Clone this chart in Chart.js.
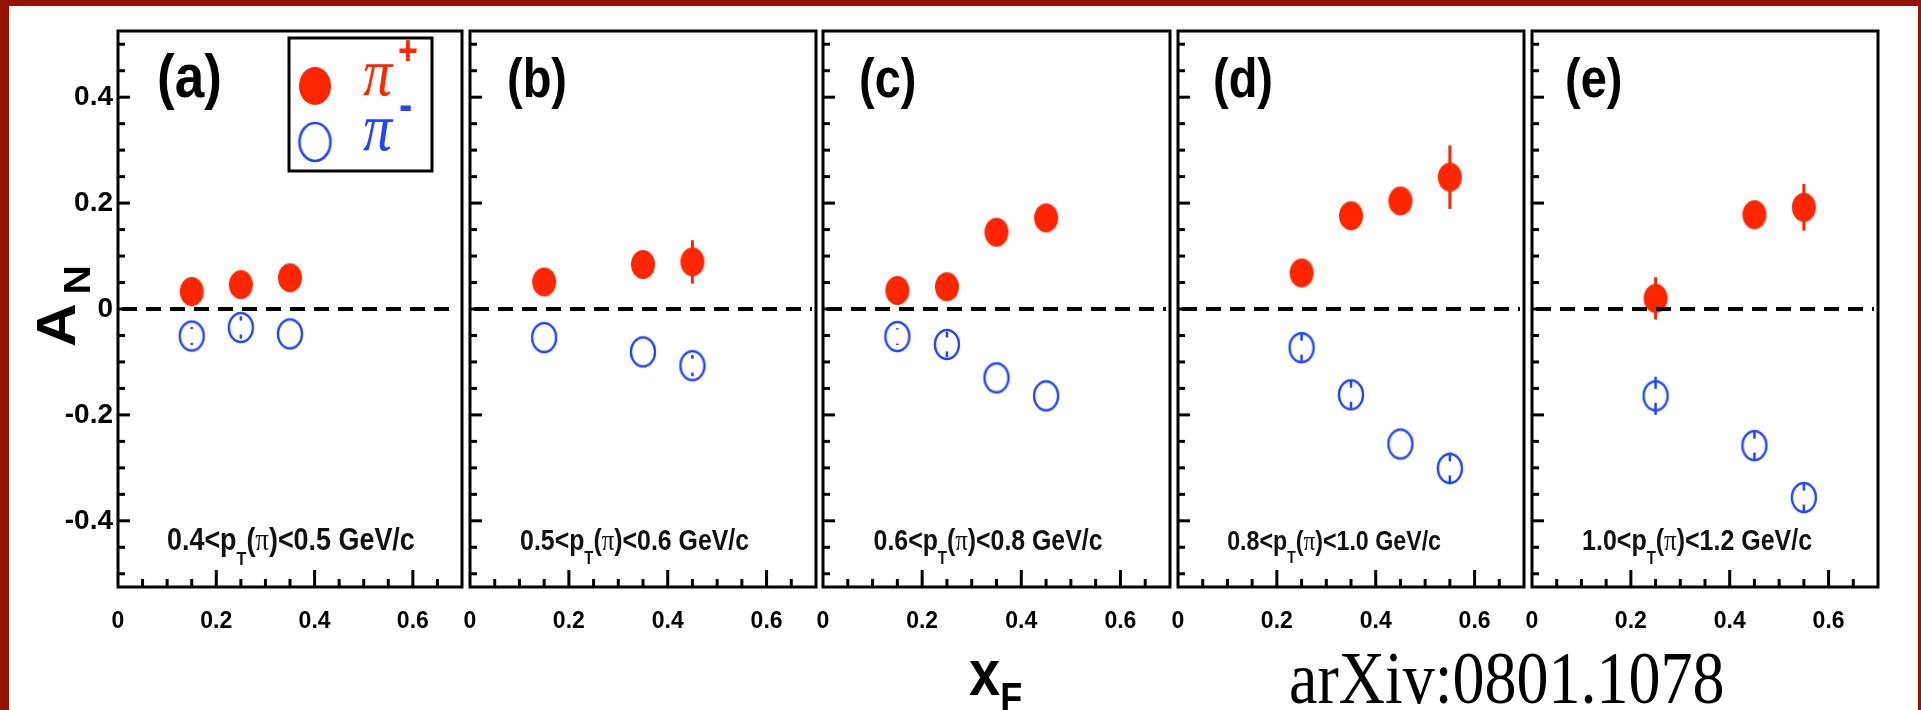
<!DOCTYPE html>
<html>
<head>
<meta charset="utf-8">
<script src="https://cdn.jsdelivr.net/npm/chart.js@4.4.1/dist/chart.umd.min.js"></script>
<style>
  html, body { margin: 0; padding: 0; }
  body { width: 1921px; height: 710px; background: #921400; position: relative; overflow: hidden; }
  #sheet { position: absolute; left: 9px; top: 6px; width: 1909px; height: 704px; background: #fff; }
  canvas { position: absolute; top: 0; }
  .lbl { position: absolute; white-space: nowrap; line-height: 1; color: #000; }
</style>
</head>
<body>
<div id="sheet"></div>
<canvas id="p0"></canvas>
<canvas id="p1"></canvas>
<canvas id="p2"></canvas>
<canvas id="p3"></canvas>
<canvas id="p4"></canvas>
<div class="lbl" style="left:24px; top:347px; font:bold 55px 'Liberation Sans'; transform-origin:0 0; transform:rotate(-90deg) scaleX(1.1);">A<span style="font-size:37px; position:relative; top:15px; margin-left:8px;">N</span></div>
<div class="lbl" style="left:969px; top:642px; font:bold 56px 'Liberation Sans'; transform-origin:0 47px; transform:scaleY(1.17);">x<span style="font-size:36px; position:relative; top:15px;">F</span></div>
<div class="lbl" style="left:1289px; top:644px; font:64px 'Liberation Serif'; transform-origin:0 54px; transform:scaleY(1.17);">arXiv:0801.1078</div>
<script>
// A_N vs x_F for pi+ / pi-, five pT bins
const panelNames = ['(a)', '(b)', '(c)', '(d)', '(e)'];
const ptLow = ['0.4', '0.5', '0.6', '0.8', '1.0'];
const ptHigh = ['0.5', '0.6', '0.8', '1.0', '1.2'];
const seriesNames = ['π+', 'π-'];

const xF = [
  [0.15, 0.25, 0.35],
  [0.15, 0.35, 0.45],
  [0.15, 0.25, 0.35, 0.45],
  [0.25, 0.35, 0.45, 0.55],
  [0.25, 0.45, 0.55]
];
const anPiPlus = [
  [0.033, 0.046, 0.059],
  [0.051, 0.084, 0.089],
  [0.035, 0.042, 0.145, 0.172],
  [0.068, 0.176, 0.204, 0.249],
  [0.020, 0.178, 0.192]
];
const errPiPlus = [
  [0.012, 0.012, 0.012],
  [0.013, 0.016, 0.041],
  [0.014, 0.016, 0.020, 0.022],
  [0.018, 0.020, 0.024, 0.060],
  [0.040, 0.025, 0.044]
];
const anPiMinus = [
  [-0.051, -0.035, -0.047],
  [-0.054, -0.081, -0.107],
  [-0.052, -0.067, -0.130, -0.164],
  [-0.073, -0.162, -0.255, -0.301],
  [-0.164, -0.258, -0.356]
];
const errPiMinus = [
  [0.017, 0.021, 0.010],
  [0.010, 0.012, 0.020],
  [0.016, 0.024, 0.012, 0.012],
  [0.026, 0.026, 0.012, 0.030],
  [0.036, 0.026, 0.028]
];

const xTickValues = [0, 0.2, 0.4, 0.6];
const xTickLabels = ['0', '0.2', '0.4', '0.6'];
const yTickValues = [-0.4, -0.2, 0, 0.2, 0.4];
const yTickLabels = ['-0.4', '-0.2', '0', '0.2', '0.4'];

// layout (page pixels)
const frames = [[118, 462], [470, 816], [823, 1170], [1178, 1524], [1532, 1878]];
const FRAME_TOP = 31, FRAME_BOTTOM = 587, CANVAS_H = 640;
const labelLeft = [39, 37, 36, 35, 33];
const labelSize = [53, 47, 47, 47, 47];
const ptCenter = [0.352, 0.333, 0.333, 0.316, 0.334];
const ptWidth = [248, 229, 229, 214, 230];
const STRETCH = 1.17;
const RED = '#ff2600';
const BLUE = '#2343ff';

function ellipseMarker(w, h, fill, stroke, lw) {
  const c = document.createElement('canvas');
  c.width = w + 6; c.height = h + 6;
  const g = c.getContext('2d');
  g.beginPath();
  g.ellipse(c.width / 2, c.height / 2, w / 2, h / 2, 0, 0, 2 * Math.PI);
  if (fill) { g.fillStyle = fill; g.fill(); }
  if (stroke) { g.lineWidth = lw; g.strokeStyle = stroke; g.stroke(); }
  return c;
}
const redDot = ellipseMarker(24, 29, RED);
const blueRing = ellipseMarker(24, 29, null, BLUE, 2.4);
const redDotBig = ellipseMarker(32, 38, RED);
const blueRingBig = ellipseMarker(31, 38, null, BLUE, 2.6);

function stretchedText(ctx, txt, x, y, font, color, align) {
  ctx.save();
  ctx.translate(x, y);
  ctx.scale(1, STRETCH);
  ctx.font = font;
  ctx.fillStyle = color;
  ctx.textAlign = align || 'left';
  ctx.textBaseline = 'alphabetic';
  ctx.fillText(txt, 0, 0);
  ctx.restore();
}

function vline(ctx, x, y1, y2) {
  ctx.beginPath(); ctx.moveTo(x, y1); ctx.lineTo(x, y2); ctx.stroke();
}

function drawPtText(ctx, i, cx, baseline) {
  const parts = [
    {t: ptLow[i] + '<p', fam: 'bold', s: 1, dy: 0},
    {t: 'T', fam: 'bold', s: 0.6, dy: 0.55},
    {t: '(', fam: 'bold', s: 1, dy: 0},
    {t: 'π', fam: 'serif', s: 1, dy: 0},
    {t: ')<' + ptHigh[i] + ' GeV/c', fam: 'bold', s: 1, dy: 0}
  ];
  const fontOf = (p, size) => p.fam === 'serif'
    ? (size * p.s) + 'px "Liberation Serif"'
    : 'bold ' + (size * p.s) + 'px "Liberation Sans"';
  let w100 = 0;
  parts.forEach(p => { ctx.font = fontOf(p, 100); w100 += ctx.measureText(p.t).width; });
  const size = 100 * ptWidth[i] / w100;
  let x = cx - ptWidth[i] / 2;
  parts.forEach(p => {
    const f = fontOf(p, size);
    stretchedText(ctx, p.t, x, baseline + p.dy * size, f, '#111');
    ctx.font = f;
    x += ctx.measureText(p.t).width;
  });
}

const panelPlugin = {
  id: 'panel',
  beforeDatasetsDraw(chart, args, opts) {
    const i = opts.index;
    const {ctx, scales: {x, y}} = chart;
    ctx.save();
    ctx.strokeStyle = RED;
    ctx.lineWidth = 3;
    xF[i].forEach((v, k) => {
      const px = x.getPixelForValue(v);
      vline(ctx, px, y.getPixelForValue(anPiPlus[i][k] + errPiPlus[i][k]), y.getPixelForValue(anPiPlus[i][k] - errPiPlus[i][k]));
    });
    ctx.restore();
  },
  afterDatasetsDraw(chart, args, opts) {
    const i = opts.index;
    const {ctx, chartArea: a, scales: {x, y}} = chart;
    ctx.save();

    // pi- error bars (gap around the open marker centre)
    ctx.strokeStyle = BLUE;
    ctx.lineWidth = 2.5;
    const gap = 7;
    xF[i].forEach((v, k) => {
      const px = x.getPixelForValue(v);
      const py = y.getPixelForValue(anPiMinus[i][k]);
      const e = py - y.getPixelForValue(anPiMinus[i][k] + errPiMinus[i][k]);
      if (e > gap) {
        vline(ctx, px, py - e, py - gap);
        vline(ctx, px, py + gap, py + e);
      }
    });

    // zero line
    const y0 = y.getPixelForValue(0);
    ctx.strokeStyle = '#000';
    ctx.lineWidth = 4;
    ctx.setLineDash([15, 9]);
    ctx.beginPath(); ctx.moveTo(a.left + 4, y0); ctx.lineTo(a.right - 4, y0); ctx.stroke();
    ctx.setLineDash([]);

    // frame + inward ticks
    ctx.lineWidth = 3;
    ctx.strokeRect(a.left, a.top, a.right - a.left, a.bottom - a.top);
    for (let k = -10; k <= 10; k++) {
      const py = y.getPixelForValue(k * 0.05);
      const len = k % 4 === 0 ? 12 : 7;
      ctx.beginPath(); ctx.moveTo(a.left, py); ctx.lineTo(a.left + len, py); ctx.stroke();
    }
    for (let k = 1; k <= 13; k++) {
      const px = x.getPixelForValue(k * 0.05);
      const len = k % 4 === 0 ? 17 : 8;
      ctx.beginPath(); ctx.moveTo(px, a.bottom); ctx.lineTo(px, a.bottom - len); ctx.stroke();
    }

    // panel tag and pT range
    stretchedText(ctx, panelNames[i], a.left + labelLeft[i], a.top + 66, 'bold ' + labelSize[i] + 'px "Liberation Sans"', '#000');
    drawPtText(ctx, i, x.getPixelForValue(ptCenter[i]), a.top + 519);

    // legend in the first panel
    if (i === 0) {
      ctx.lineWidth = 3;
      ctx.strokeStyle = '#000';
      ctx.strokeRect(a.left + 171, a.top + 7, 143, 133);
      ctx.drawImage(redDotBig, a.left + 197 - redDotBig.width / 2, a.top + 55 - redDotBig.height / 2);
      ctx.drawImage(blueRingBig, a.left + 197 - blueRingBig.width / 2, a.top + 111 - blueRingBig.height / 2);
      stretchedText(ctx, seriesNames[0].charAt(0), a.left + 245, a.top + 64, 'italic 58px "Liberation Serif"', RED);
      stretchedText(ctx, seriesNames[0].slice(1), a.left + 280, a.top + 33, 'bold 34px "Liberation Sans"', RED);
      stretchedText(ctx, seriesNames[1].charAt(0), a.left + 245, a.top + 119, 'italic 58px "Liberation Serif"', BLUE);
      stretchedText(ctx, seriesNames[1].slice(1), a.left + 281, a.top + 89, 'bold 40px "Liberation Sans"', BLUE);
    }
    ctx.restore();
  }
};

function makePanel(i) {
  const [fl, fr] = frames[i];
  const padL = i === 0 ? 106 : 22;
  const padR = 4;
  const cv = document.getElementById('p' + i);
  cv.width = padL + (fr - fl) + padR;
  cv.height = CANVAS_H;
  cv.style.left = (fl - padL) + 'px';

  new Chart(cv, {
    type: 'scatter',
    data: {
      datasets: [{
        label: seriesNames[0],
        data: xF[i].map((v, k) => ({x: v, y: anPiPlus[i][k]})),
        pointStyle: redDot,
        pointRadius: 1,
        pointBorderWidth: 0
      }, {
        label: seriesNames[1],
        data: xF[i].map((v, k) => ({x: v, y: anPiMinus[i][k]})),
        pointStyle: blueRing,
        pointRadius: 1,
        pointBorderWidth: 0
      }]
    },
    options: {
      responsive: false,
      animation: false,
      events: [],
      layout: {padding: {top: FRAME_TOP, right: padR, left: 0, bottom: 0}},
      plugins: {
        legend: {display: false},
        tooltip: {enabled: false},
        panel: {index: i}
      },
      scales: {
        x: {
          type: 'linear', min: 0, max: 0.7,
          grid: {display: false, drawTicks: false},
          border: {display: false},
          afterBuildTicks: s => { s.ticks = xTickValues.map(v => ({value: v})); },
          afterFit: s => { s.height = CANVAS_H - FRAME_BOTTOM; s.paddingLeft = 0; s.paddingRight = 0; },
          ticks: {
            autoSkip: false, maxRotation: 0, padding: 21, color: '#000',
            font: {family: 'Liberation Sans', size: 23, weight: 'bold'},
            callback: (v, k) => xTickLabels[k]
          }
        },
        y: {
          min: -0.525, max: 0.525,
          grid: {display: false, drawTicks: false},
          border: {display: false},
          afterBuildTicks: s => { s.ticks = yTickValues.map(v => ({value: v})); },
          afterFit: s => { s.width = padL; s.paddingTop = 0; s.paddingBottom = 0; },
          ticks: {
            display: i === 0, padding: 5, color: '#000',
            font: {family: 'Liberation Sans', size: 28, weight: 'bold'},
            callback: (v, k) => yTickLabels[k]
          }
        }
      }
    },
    plugins: [panelPlugin]
  });
}

for (let i = 0; i < frames.length; i++) makePanel(i);
</script>
</body>
</html>
